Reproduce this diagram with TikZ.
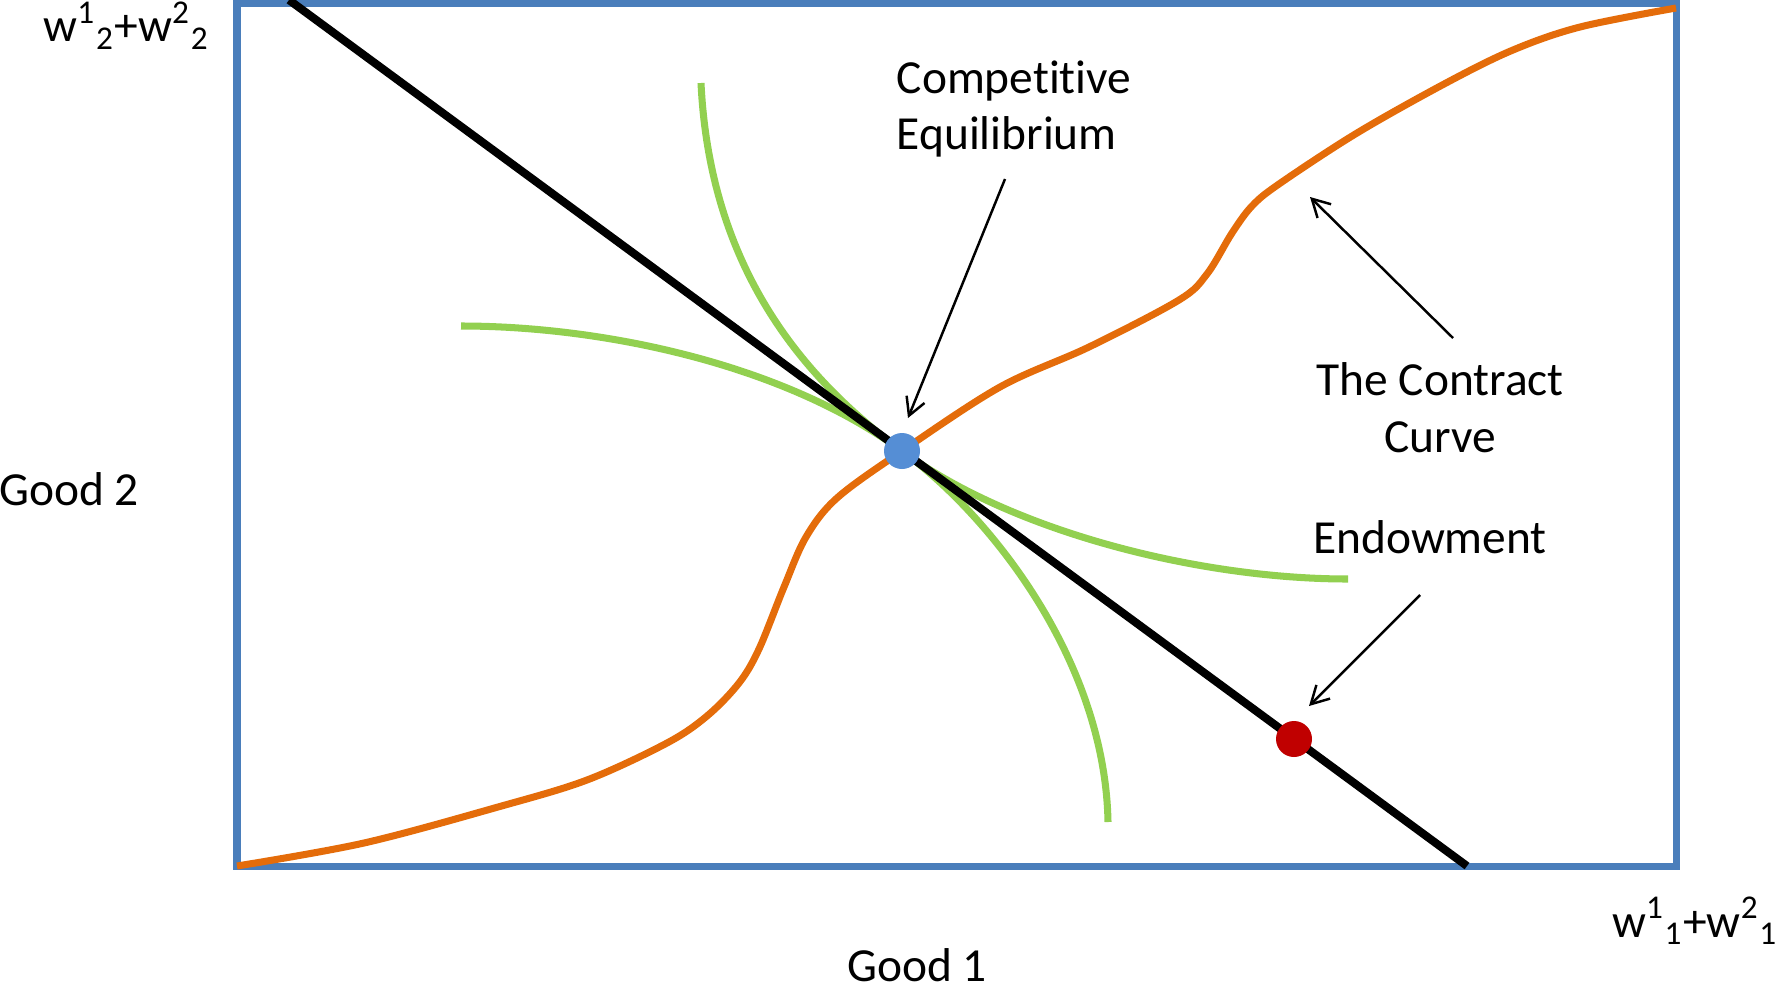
\documentclass[tikz,border=0pt]{standalone}
\usepackage{fontspec}
\setmainfont{Carlito}[Ligatures=NoCommon]
\usetikzlibrary{arrows.meta}
\tikzset{>={Straight Barb[length=5pt,width=5.5pt]}}
\definecolor{boxblue}{HTML}{4A7EBB}
\definecolor{contract}{HTML}{E46C0A}
\definecolor{indgreen}{HTML}{92D050}
\definecolor{eqblue}{HTML}{558ED5}
\definecolor{endred}{HTML}{C00000}

\begin{document}
\begin{tikzpicture}[
    txt/.style={font=\fontsize{13.5}{16.1}\selectfont, inner sep=0pt},
    indiff/.style={line width=2pt, draw=indgreen},
    pointer/.style={->, line width=.7pt},
    dot/.style={circle, inner sep=0pt, minimum size=.36cm}]
    \useasboundingbox(-2.37, -1.26) rectangle (15.39, 8.66);
    \draw[line width=2pt, boxblue](0, 0) rectangle (14.39, 8.63);
    % contract curve
    \draw[line width=2pt, contract] plot[smooth, tension=.55] coordinates {(0, 0) (1.27, .23) (2.61, .59) (3.50, .86) (4.30, 1.23) (4.70, 1.50) (5.02, 1.83) (5.22, 2.17) (5.47, 2.79) (5.69, 3.29) (6.00, 3.68) (6.65, 4.15) (7.63, 4.79) (8.52, 5.19) (9.42, 5.66) (9.70, 5.92) (9.95, 6.33) (10.15, 6.60) (10.42, 6.82) (11.20, 7.33) (12.09, 7.83) (12.76, 8.16) (13.43, 8.39) (14.39, 8.58)};
    % indifference curves
    \draw[indiff](4.64, 7.83) .. controls (4.73, 5.96) and (5.68, 4.86) .. (6.65, 4.15) .. controls (7.53, 3.51) and (8.68, 2.06) .. (8.71, .44);
    \draw[indiff](2.24, 5.40) .. controls (3.63, 5.40) and (5.45, 5.03) .. (6.65, 4.15) .. controls (7.75, 3.34) and (9.63, 2.87) .. (11.11, 2.87);
    % budget line
    \draw[line width=2.3pt](.52, 8.66)--(12.30, 0);
    \node[dot, fill=eqblue](eq) at (6.65, 4.15){};
    \node[dot, fill=endred](endow) at (10.57, 1.27){};
    % labels
    \node[txt, anchor=base](top) at (-1.105, 8.24){w\textsuperscript{1}\textsubscript{2}+w\textsuperscript{2}\textsubscript{2}};
    \node[txt, anchor=base](good2) at (-1.68, 3.61){Good 2};
    \node[txt, anchor=base](good1) at (6.80, -1.15){Good 1};
    \node[txt, anchor=base](right) at (14.58, -.71){w\textsuperscript{1}\textsubscript{1}+w\textsuperscript{2}\textsubscript{1}};
    \node[txt, anchor=north west, align=left](ce) at (6.59, 8.06){Competitive\\Equilibrium};
    \node[txt, anchor=north, align=center](cc) at (12.03, 5.04){The Contract\\Curve};
    \node[txt, anchor=base](en) at (11.93, 3.13){Endowment};
    % pointers
    \coordinate(ce-tail) at (7.68, 6.87);
    \coordinate(ce-tip) at (6.71, 4.48);
    \coordinate(cc-tail) at (12.16, 5.28);
    \coordinate(cc-tip) at (10.73, 6.69);
    \coordinate(en-tail) at (11.83, 2.71);
    \coordinate(en-tip) at (10.72, 1.60);
    \draw[pointer](ce-tail)--(ce-tip);
    \draw[pointer](cc-tail)--(cc-tip);
    \draw[pointer](en-tail)--(en-tip);
\end{tikzpicture}
\end{document}
